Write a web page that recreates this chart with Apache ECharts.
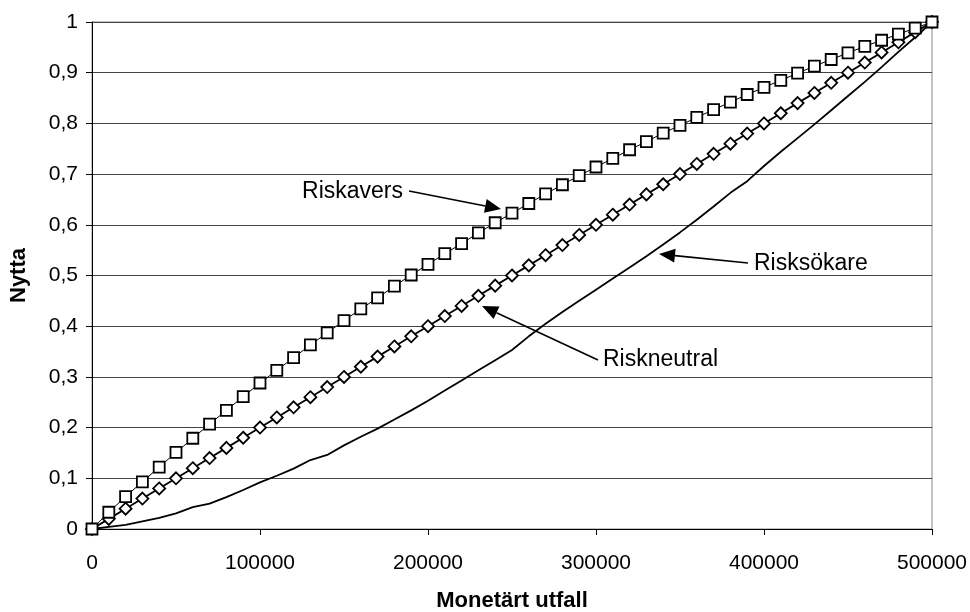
<!DOCTYPE html>
<html>
<head>
<meta charset="utf-8">
<script src="https://cdn.jsdelivr.net/npm/echarts@6/dist/echarts.min.js"></script>
<style>
  html, body { margin: 0; padding: 0; background: #fff; }
  #chart { width: 970px; height: 612px; }
</style>
</head>
<body>
<div id="chart"></div>
<script>
// Monetary outcome (kr) at each step
const utfall = [
  0, 10000, 20000, 30000, 40000, 50000, 60000, 70000, 80000, 90000, 100000,
  110000, 120000, 130000, 140000, 150000, 160000, 170000, 180000, 190000, 200000,
  210000, 220000, 230000, 240000, 250000, 260000, 270000, 280000, 290000, 300000,
  310000, 320000, 330000, 340000, 350000, 360000, 370000, 380000, 390000, 400000,
  410000, 420000, 430000, 440000, 450000, 460000, 470000, 480000, 490000, 500000
];

// Utility for a risk-averse decision maker
const riskavers = [
  0, 0.033, 0.064, 0.093, 0.122, 0.151, 0.179, 0.207, 0.234, 0.261, 0.288,
  0.313, 0.338, 0.363, 0.387, 0.411, 0.434, 0.456, 0.479, 0.501, 0.522,
  0.543, 0.563, 0.584, 0.604, 0.623, 0.642, 0.661, 0.679, 0.697, 0.714,
  0.731, 0.748, 0.764, 0.781, 0.796, 0.812, 0.827, 0.842, 0.857, 0.871,
  0.885, 0.899, 0.913, 0.926, 0.939, 0.952, 0.964, 0.976, 0.988, 1
];

// Utility for a risk-neutral decision maker
const riskneutral = [
  0, 0.02, 0.04, 0.06, 0.08, 0.10, 0.12, 0.14, 0.16, 0.18, 0.20,
  0.22, 0.24, 0.26, 0.28, 0.30, 0.32, 0.34, 0.36, 0.38, 0.40,
  0.42, 0.44, 0.46, 0.48, 0.50, 0.52, 0.54, 0.56, 0.58, 0.60,
  0.62, 0.64, 0.66, 0.68, 0.70, 0.72, 0.74, 0.76, 0.78, 0.80,
  0.82, 0.84, 0.86, 0.88, 0.90, 0.92, 0.94, 0.96, 0.98, 1
];

// Utility for a risk-seeking decision maker
const risksokare = [
  0, 0.004, 0.008, 0.015, 0.022, 0.031, 0.043, 0.050, 0.063, 0.077, 0.092,
  0.105, 0.119, 0.136, 0.146, 0.165, 0.182, 0.198, 0.216, 0.234, 0.253,
  0.273, 0.293, 0.313, 0.333, 0.353, 0.380, 0.405, 0.428, 0.450, 0.472,
  0.494, 0.516, 0.538, 0.561, 0.585, 0.610, 0.636, 0.663, 0.686, 0.716,
  0.744, 0.771, 0.798, 0.826, 0.854, 0.882, 0.911, 0.941, 0.970, 1
];

const seriesNames = ['Riskavers', 'Riskneutral', 'Risksökare'];
const xTitle = 'Monetärt utfall';
const yTitle = 'Nytta';

const FONT = '"Liberation Sans", Arial, sans-serif';

function pairs(ys) {
  return utfall.map((x, i) => [x, ys[i]]);
}

// Callout labels with arrows (pixel positions on the canvas)
const callouts = [
  { text: 'Riskavers',   tx: 403, ty: 192, align: 'right', from: [409, 191], to: [501, 209] },
  { text: 'Risksökare',  tx: 754, ty: 264, align: 'left',  from: [748, 263], to: [659, 254] },
  { text: 'Riskneutral', tx: 603, ty: 360, align: 'left',  from: [598, 360], to: [482, 306] }
];

function arrowGraphics(c) {
  const [x1, y1] = c.from, [x2, y2] = c.to;
  const dx = x2 - x1, dy = y2 - y1;
  const len = Math.sqrt(dx * dx + dy * dy);
  const ux = dx / len, uy = dy / len;
  const headLen = 16, headHalf = 7;
  const bx = x2 - ux * headLen, by = y2 - uy * headLen;
  return [
    {
      type: 'line',
      shape: { x1: x1, y1: y1, x2: bx, y2: by },
      style: { stroke: '#000', lineWidth: 1.6 },
      z: 100
    },
    {
      type: 'polygon',
      shape: { points: [[x2, y2], [bx - uy * headHalf, by + ux * headHalf], [bx + uy * headHalf, by - ux * headHalf]] },
      style: { fill: '#000' },
      z: 100
    },
    {
      type: 'text',
      x: c.tx, y: c.ty,
      style: {
        text: c.text, fill: '#000', font: '23px ' + FONT,
        textAlign: c.align, textVerticalAlign: 'middle'
      },
      z: 100
    }
  ];
}

const chart = echarts.init(document.getElementById('chart'), null, { renderer: 'canvas' });

chart.setOption({
  backgroundColor: '#fff',
  animation: false,
  grid: {
    left: 92, right: 38, top: 22, bottom: 83,
    containLabel: false,
    outerBoundsMode: 'none',
    show: true, borderColor: '#888', borderWidth: 1, backgroundColor: 'transparent'
  },
  xAxis: {
    type: 'value',
    min: 0, max: 500000, interval: 100000,
    name: xTitle,
    nameLocation: 'middle',
    nameGap: 61,
    nameTextStyle: { fontFamily: FONT, fontSize: 22, fontWeight: 'bold', color: '#000', verticalAlign: 'top' },
    axisLine: { show: true, lineStyle: { color: '#000', width: 1 } },
    axisTick: { show: true, length: 6, lineStyle: { color: '#000' } },
    axisLabel: {
      fontFamily: FONT, fontSize: 21, color: '#000', margin: 24,
      formatter: v => String(v)
    },
    splitLine: { show: false }
  },
  yAxis: {
    type: 'value',
    min: 0, max: 1, interval: 0.1,
    name: yTitle,
    nameLocation: 'middle',
    nameGap: 62,
    nameRotate: 90,
    nameTextStyle: { fontFamily: FONT, fontSize: 22, fontWeight: 'bold', color: '#000' },
    axisLine: { show: true, lineStyle: { color: '#000', width: 1 } },
    axisTick: { show: true, length: 6, lineStyle: { color: '#000' } },
    axisLabel: {
      fontFamily: FONT, fontSize: 21, color: '#000', margin: 14,
      formatter: v => String(Math.round(v * 10) / 10).replace('.', ',')
    },
    splitLine: { show: true, lineStyle: { color: '#444', width: 1 } }
  },
  series: [
    {
      name: seriesNames[2],
      type: 'line',
      data: pairs(risksokare),
      showSymbol: false,
      lineStyle: { color: '#000', width: 1.8 },
      z: 2
    },
    {
      name: seriesNames[1],
      type: 'line',
      data: pairs(riskneutral),
      showAllSymbol: true,
      symbol: 'diamond',
      symbolSize: 12,
      lineStyle: { color: '#000', width: 1.8 },
      itemStyle: { color: '#fff', borderColor: '#000', borderWidth: 1.8 },
      z: 3
    },
    {
      name: seriesNames[0],
      type: 'line',
      data: pairs(riskavers),
      showAllSymbol: true,
      symbol: 'rect',
      symbolSize: 11,
      lineStyle: { color: '#000', width: 1 },
      itemStyle: { color: '#fff', borderColor: '#000', borderWidth: 1.8 },
      z: 4
    }
  ],
  graphic: callouts.flatMap(arrowGraphics)
});
</script>
</body>
</html>
